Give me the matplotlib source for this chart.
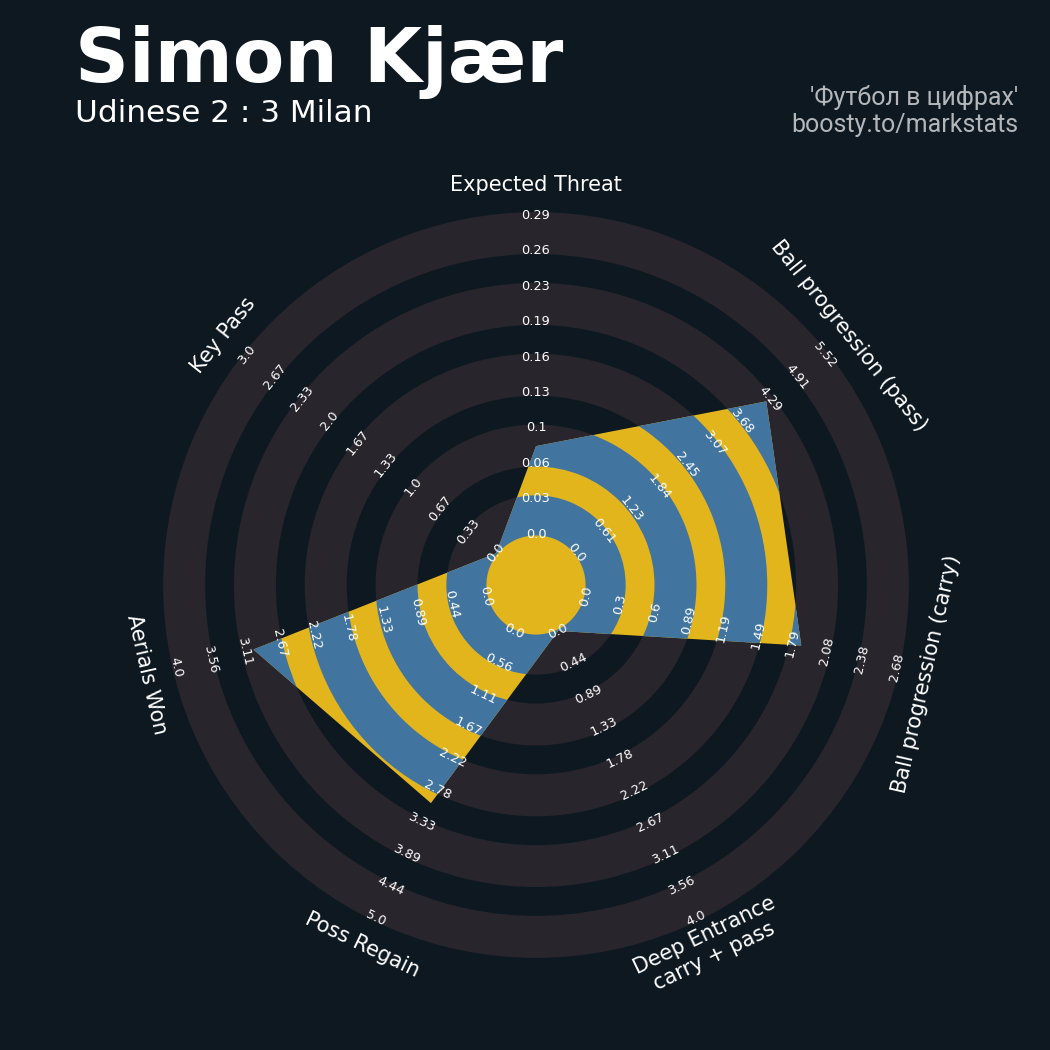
import numpy as np
import matplotlib
matplotlib.use("Agg")
import matplotlib.pyplot as plt
from matplotlib.patches import Polygon, Wedge

# data
params = ["Expected Threat", "Ball progression (pass)", "Ball progression (carry)",
          "Deep Entrance\ncarry + pass", "Poss Regain", "Aerials Won", "Key Pass"]
low = [0, 0, 0, 0, 0, 0, 0]
high = [0.29, 5.52, 2.68, 4.0, 5.0, 4.0, 3.0]
values = [0.08, 4.22, 1.86, 0.0, 3.0, 3.0, 0.0]

player = "Simon Kjær"
match = "Udinese 2 : 3 Milan"
credit1 = "'Футбол в цифрах'"
credit2 = "boosty.to/markstats"

# colours
bg = "#0e1820"
ring_col = "#28252c"
radar_col = "#4175a0"
ring_in_col = "#e3b51d"

# geometry (1 unit = one ring band)
S = 35.4          # pixels per unit
cx, cy = 536, 585  # centre in pixels
b0 = 1.44          # centre circle radius
n_bands = 9
grow = 0.093       # dark rings look slightly wider than the gaps
label_r = 11.3

fig = plt.figure(figsize=(10.5, 10.5), dpi=100, facecolor=bg)
ax = fig.add_axes([0, 0, 1, 1])
ax.set_facecolor(bg)
ax.set_xlim(-cx / S, (1050 - cx) / S)
ax.set_ylim(-(1050 - cy) / S, cy / S)
ax.axis("off")

# background rings
for k in range(0, n_bands + 1, 2):
    r_in = b0 + k - grow
    r_out = b0 + k + 1 + grow
    ax.add_patch(Wedge((0, 0), r_out, 0, 360, width=r_out - r_in,
                       facecolor=ring_col, edgecolor="none", zorder=1))

n = len(params)
angles = np.deg2rad(90 - np.arange(n) * 360 / n)

# radar polygon
radii = [b0 + (v - lo) / (hi - lo) * n_bands for v, lo, hi in zip(values, low, high)]
pts = np.column_stack([np.cos(angles) * radii, np.sin(angles) * radii])
poly = Polygon(pts, closed=True, facecolor=ring_in_col, edgecolor="none", zorder=2)
ax.add_patch(poly)

# blue bands inside the radar
for k in range(0, n_bands + 1, 2):
    r_in = b0 + k - grow
    if k == 0:
        r_in = 1.4
    r_out = b0 + k + 1 + grow
    w = Wedge((0, 0), r_out, 0, 360, width=r_out - r_in,
              facecolor=radar_col, edgecolor="none", zorder=3)
    ax.add_patch(w)
    w.set_clip_path(poly)


def rot_for(a_deg):
    rot = a_deg - 90
    rot = (rot + 180) % 360 - 180
    if abs(rot) > 90:
        rot = rot + 180 if rot < 0 else rot - 180
    return rot


for i in range(n):
    a = angles[i]
    rot = rot_for(np.rad2deg(a))
    # value labels on the rings
    ticks = np.linspace(low[i], high[i], n_bands + 1)
    for k, t in enumerate(ticks):
        r = b0 + k
        ax.text(np.cos(a) * r, np.sin(a) * r, str(round(t, 2)), rotation=rot,
                rotation_mode="anchor", ha="center", va="center",
                fontsize=9.3, color="white", zorder=5)
    # parameter labels
    ax.text(np.cos(a) * label_r, np.sin(a) * label_r, params[i], rotation=rot,
            rotation_mode="anchor", ha="center", va="center", multialignment="center",
            fontsize=15, color="white", zorder=5)

fig.text(75 / 1050, 1 - 82 / 1050, player, fontsize=54, fontweight="bold",
         color="white", ha="left", va="baseline")
fig.text(75 / 1050, 1 - 122 / 1050, match, fontsize=22.4,
         color="white", ha="left", va="baseline")
fig.text(1018 / 1050, 1 - 105.5 / 1050, credit1, fontsize=18, family="Roboto",
         color="#b4b7ba", ha="right", va="baseline")
fig.text(1018 / 1050, 1 - 132.3 / 1050, credit2, fontsize=18, family="Roboto",
         color="#b4b7ba", ha="right", va="baseline")

fig.savefig("out.png", dpi=100, facecolor=bg)
